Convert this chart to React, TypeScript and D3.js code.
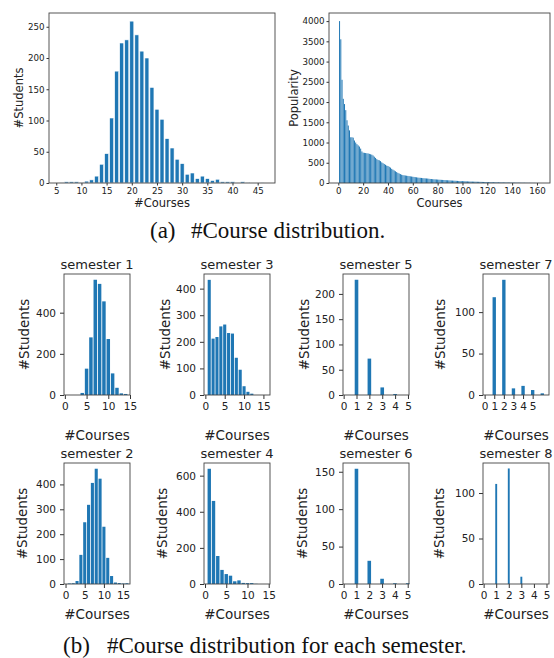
import React, { useEffect, useRef } from "react";
import * as d3 from "d3";

// (a) left: number of students by number of courses taken
const overallCourses = [
  6, 7, 8, 9, 10, 11, 12, 13, 14, 15, 16, 17, 18, 19, 20, 21, 22, 23, 24, 25, 26,
  27, 28, 29, 30, 31, 32, 33, 34, 35, 36, 37, 38, 39, 40, 41, 42, 43, 44, 45, 46,
];
const overallStudents = [
  1, 2, 2, 2, 1, 3, 5, 11, 30, 47, 104, 179, 224, 229, 259, 237, 211, 200, 153, 118, 102,
  71, 56, 38, 31, 14, 16, 7, 11, 7, 4, 6, 2, 2, 2, 0, 2, 1, 0, 0, 1,
];

// (a) right: popularity of each course (sorted)
const popularity = [
  4000, 3550, 2550, 2080, 1950, 1800, 1550, 1420, 1300, 1130,
  1130, 1120, 1050, 1000, 960, 930, 900, 850, 780, 750,
  745, 740, 735, 730, 720, 710, 700, 680, 650, 620,
  590, 570, 560, 540, 510, 490, 470, 450, 430, 420,
  400, 380, 350, 330, 310, 290, 270, 250, 235, 220,
  205, 195, 190, 185, 180, 175, 170, 165, 160, 155,
  150, 145, 140, 135, 130, 128, 125, 120, 118, 115,
  112, 110, 105, 100, 98, 95, 92, 90, 88, 85,
  82, 80, 78, 76, 74, 72, 70, 68, 66, 64,
  62, 60, 58, 56, 54, 52, 50, 48, 47, 46,
  45, 44, 42, 40, 38, 37, 36, 35, 34, 33,
  32, 31, 30, 29, 28, 27, 26, 25, 24, 23,
  22, 21, 20, 19, 18, 18, 17, 16, 16, 15,
  15, 14, 13, 13, 12, 12, 11, 11, 10, 10,
  9, 9, 8, 8, 8, 7, 7, 6, 6, 6,
  5, 5, 4, 4, 4, 3, 3, 3, 2, 2, 2, 1,
];
const courseIds = popularity.map((_, i) => i + 1);

// (b) per semester
const sem1Courses = [4, 5, 6, 7, 8, 9, 10, 11, 12, 13, 14];
const sem1Students = [10, 128, 280, 560, 540, 455, 272, 105, 35, 8, 5];
const sem2Courses = [1, 2, 3, 4, 5, 6, 7, 8, 9, 10, 11, 12, 13, 14, 15, 16];
const sem2Students = [2, 3, 12, 117, 248, 318, 406, 463, 423, 230, 105, 32, 6, 4, 2, 3];
const sem3Courses = [1, 2, 3, 4, 5, 6, 7, 8, 9, 10, 11, 12];
const sem3Students = [433, 212, 218, 258, 265, 233, 231, 140, 95, 33, 12, 5];
const sem4Courses = [1, 2, 3, 4, 5, 6, 7, 8, 9, 10, 11, 12];
const sem4Students = [638, 460, 155, 78, 55, 46, 15, 20, 6, 5, 5, 1];
const sem5Courses = [1, 2, 3, 4];
const sem5Students = [228, 72, 15, 2];
const sem6Courses = [1, 2, 3, 4, 5];
const sem6Students = [154, 31, 7, 1, 1];
const sem7Courses = [1, 2, 3, 4, 5, 6];
const sem7Students = [118, 139, 8, 11, 6, 2];
const sem8Courses = [1, 2, 3];
const sem8Students = [110, 127, 8];

const blue = "#1f77b4";
const sans = "DejaVu Sans";

function drawPanel(svg, p) {
  const x = d3.scaleLinear().domain(p.xDomain).range([p.left, p.right]);
  const y = d3.scaleLinear().domain(p.yDomain).range([p.bottom, p.top]);
  const g = svg.append("g");

  g.selectAll("rect.bar")
    .data(p.xs)
    .join("rect")
    .attr("class", "bar")
    .attr("x", (d) => x(d - p.barWidth / 2))
    .attr("width", x(p.barWidth) - x(0))
    .attr("y", (d, i) => y(p.values[i]))
    .attr("height", (d, i) => y(0) - y(p.values[i]))
    .attr("fill", blue)
    .attr("stroke", p.edge ? "white" : "none")
    .attr("stroke-width", p.edge || 0);

  const fmt = d3.format("d");
  const xa = g.append("g")
    .attr("transform", `translate(0,${p.bottom})`)
    .call(d3.axisBottom(x).tickValues(p.xTicks).tickFormat(fmt).tickSize(p.tickLen).tickPadding(p.tickPad));
  const ya = g.append("g")
    .attr("transform", `translate(${p.left},0)`)
    .call(d3.axisLeft(y).tickValues(p.yTicks).tickFormat(fmt).tickSize(p.tickLen).tickPadding(p.tickPad));
  [xa, ya].forEach((a) => {
    a.select(".domain").remove();
    a.selectAll("line").attr("stroke", "#333");
    a.selectAll("text").attr("fill", "#222").attr("font-size", p.tickFont).attr("font-family", sans);
  });

  g.append("rect")
    .attr("x", p.left).attr("y", p.top)
    .attr("width", p.right - p.left).attr("height", p.bottom - p.top)
    .attr("fill", "none").attr("stroke", "#444").attr("stroke-width", 0.9);

  const cx = (p.left + p.right) / 2;
  g.append("text")
    .attr("x", cx).attr("y", p.xLabelY)
    .attr("text-anchor", "middle")
    .attr("font-family", sans).attr("font-size", p.labelFont).attr("fill", "#222")
    .text(p.xLabel);
  g.append("text")
    .attr("transform", `translate(${p.yLabelX},${(p.top + p.bottom) / 2}) rotate(-90)`)
    .attr("dy", "0.35em")
    .attr("text-anchor", "middle")
    .attr("font-family", sans).attr("font-size", p.labelFont).attr("fill", "#222")
    .text(p.yLabel);
  if (p.title) {
    g.append("text")
      .attr("x", cx).attr("y", p.titleY)
      .attr("text-anchor", "middle")
      .attr("font-family", sans).attr("font-size", p.titleFont).attr("fill", "#222")
      .text(p.title);
  }
}

export default function App() {
  const svgRef = useRef(null);
  const width = 554;
  const height = 658;

  useEffect(() => {
    const svg = d3.select(svgRef.current);
    svg.selectAll("*").remove();

    const top = { top: 13, bottom: 183, tickLen: 2.5, tickPad: 2, tickFont: 8.7, labelFont: 11.5, xLabelY: 207, edge: 0.6 };
    drawPanel(svg, {
      ...top, left: 49, right: 275,
      xDomain: [3.56, 48.44], yDomain: [0, 272],
      xs: overallCourses, values: overallStudents, barWidth: 0.8,
      xTicks: [5, 10, 15, 20, 25, 30, 35, 40, 45], yTicks: [0, 50, 100, 150, 200, 250],
      xLabel: "#Courses", yLabel: "#Students", yLabelX: 19,
    });
    drawPanel(svg, {
      ...top, left: 329, right: 550, edge: 0,
      xDomain: [-7.5, 170.5], yDomain: [0, 4200],
      xs: courseIds, values: popularity, barWidth: 0.8,
      xTicks: [0, 20, 40, 60, 80, 100, 120, 140, 160],
      yTicks: [0, 500, 1000, 1500, 2000, 2500, 3000, 3500, 4000],
      xLabel: "Courses", yLabel: "Popularity", yLabelX: 294,
    });

    const row1 = { top: 274, bottom: 395, titleY: 269, xLabelY: 440 };
    const row2 = { top: 463, bottom: 584, titleY: 458, xLabelY: 619 };
    const sem = { tickLen: 4, tickPad: 4, tickFont: 10.5, labelFont: 13.5, titleFont: 13, xLabel: "#Courses", yLabel: "#Students" };
    const col = [
      { left: 64, right: 130 },
      { left: 204, right: 270 },
      { left: 343, right: 409 },
      { left: 483, right: 549 },
    ];
    const panels = [
      { ...row1, ...col[0], title: "semester 1", yLabelX: 24, xDomain: [-0.2, 15], yDomain: [0, 588], xs: sem1Courses, values: sem1Students, barWidth: 0.8, xTicks: [0, 5, 10, 15], yTicks: [0, 200, 400] },
      { ...row1, ...col[1], title: "semester 3", yLabelX: 165, xDomain: [-0.35, 16.7], yDomain: [0, 455], xs: sem3Courses, values: sem3Students, barWidth: 0.8, xTicks: [0, 5, 10, 15], yTicks: [0, 100, 200, 300, 400] },
      { ...row1, ...col[2], title: "semester 5", yLabelX: 304, xDomain: [-0.05, 5.08], yDomain: [0, 239.4], xs: sem5Courses, values: sem5Students, barWidth: 0.28, xTicks: [0, 1, 2, 3, 4, 5], yTicks: [0, 50, 100, 150, 200] },
      { ...row1, ...col[3], title: "semester 7", yLabelX: 440, xDomain: [-0.17, 6.7], yDomain: [0, 146], xs: sem7Courses, values: sem7Students, barWidth: 0.35, xTicks: [0, 1, 2, 3, 4, 5], yTicks: [0, 50, 100] },
      { ...row2, ...col[0], title: "semester 2", yLabelX: 22, xDomain: [-0.4, 16.8], yDomain: [0, 486], xs: sem2Courses, values: sem2Students, barWidth: 0.8, xTicks: [0, 5, 10, 15], yTicks: [0, 100, 200, 300, 400] },
      { ...row2, ...col[1], title: "semester 4", yLabelX: 162, xDomain: [-0.24, 15.3], yDomain: [0, 670], xs: sem4Courses, values: sem4Students, barWidth: 0.8, xTicks: [0, 5, 10, 15], yTicks: [0, 200, 400, 600] },
      { ...row2, ...col[2], title: "semester 6", yLabelX: 302, xDomain: [-0.05, 5.1], yDomain: [0, 161.7], xs: sem6Courses, values: sem6Students, barWidth: 0.28, xTicks: [0, 1, 2, 3, 4, 5], yTicks: [0, 50, 100, 150] },
      { ...row2, ...col[3], title: "semester 8", yLabelX: 439, xDomain: [-0.05, 5.2], yDomain: [0, 133], xs: sem8Courses, values: sem8Students, barWidth: 0.15, xTicks: [0, 1, 2, 3, 4, 5], yTicks: [0, 50, 100] },
    ];
    panels.forEach((p) => drawPanel(svg, { ...sem, ...p }));

    // captions
    const serif = "Liberation Serif, Times New Roman, serif";
    [
      { x: 150, x2: 191, y: 238, tag: "(a)", text: "#Course distribution." },
      { x: 63, x2: 107, y: 653, tag: "(b)", text: "#Course distribution for each semester." },
    ].forEach((c) => {
      svg.append("text").attr("x", c.x).attr("y", c.y)
        .attr("font-family", serif).attr("font-size", 23).attr("fill", "#111").text(c.tag);
      svg.append("text").attr("x", c.x2).attr("y", c.y)
        .attr("font-family", serif).attr("font-size", 23).attr("fill", "#111").text(c.text);
    });
  }, []);

  return (
    <svg
      ref={svgRef}
      width={width}
      height={height}
      style={{ position: "absolute", left: 0, top: 0, background: "white" }}
    />
  );
}
